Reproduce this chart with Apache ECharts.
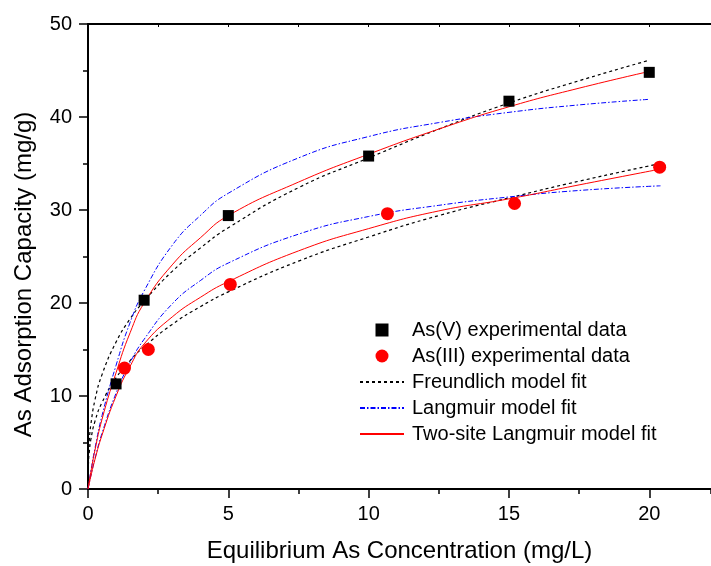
<!DOCTYPE html>
<html>
<head>
<meta charset="utf-8">
<script src="https://cdn.jsdelivr.net/npm/echarts@6/dist/echarts.min.js"></script>
<style>
    html, body { margin: 0; padding: 0; background: #fff; }
    #isotherm { width: 711px; height: 566px; }
</style>
</head>
<body>
<div id="isotherm"></div>
<script>
// measured points
var asVConc = [1, 2, 5, 10, 15, 20];
var asVQ = [11.3, 20.3, 29.4, 35.8, 41.7, 44.8];
var asIIIConc = [1.3, 2.15, 5.07, 10.67, 15.2, 20.37];
var asIIIQ = [13.0, 15.0, 22.0, 29.6, 30.7, 34.6];

// fit curves
var fitConcV = [0, 0.02, 0.05, 0.1, 0.25, 0.5, 1, 1.5, 2, 3, 4, 5, 7.5, 10, 12.5, 15, 17.5, 20];
var freundlichV = [0, 3.9, 5.4, 6.9, 9.6, 12.3, 15.8, 18.3, 20.2, 23.4, 25.9, 28.1, 32.4, 35.6, 38.7, 41.5, 43.9, 46.1];
var langmuirV = [0, 0.39, 0.97, 1.9, 4.4, 7.9, 13.3, 17.9, 21.3, 26.2, 29.4, 31.8, 35.6, 37.9, 39.4, 40.5, 41.3, 41.9];
var twoSiteV = [0, 0.37, 0.9, 1.8, 4.2, 7.5, 12.5, 16.8, 20.0, 24.1, 27.0, 29.4, 33.0, 36.0, 38.7, 41.1, 43.1, 44.9];

var fitConcIII = [0, 0.02, 0.05, 0.1, 0.25, 0.5, 1, 1.5, 2, 3, 4, 5, 7.5, 10, 12.5, 15, 17.5, 20.4];
var freundlichIII = [0, 3.0, 4.1, 5.3, 7.3, 9.3, 11.95, 13.8, 15.3, 17.7, 19.6, 21.2, 24.5, 27.1, 29.4, 31.3, 33.1, 35.0];
var langmuirIII = [0, 0.29, 0.71, 1.4, 3.3, 6.0, 10.3, 13.6, 16.1, 19.9, 22.4, 24.3, 27.4, 29.3, 30.5, 31.4, 32.1, 32.6];
var twoSiteIII = [0, 0.27, 0.68, 1.35, 3.2, 5.8, 10.0, 13.2, 15.6, 18.5, 20.6, 22.3, 25.6, 28.0, 29.9, 31.2, 32.7, 34.4];

var xTicks = [0, 5, 10, 15, 20];
var yTicks = [0, 10, 20, 30, 40, 50];

var seriesNames = ['As(V) experimental data', 'As(III) experimental data',
    'Freundlich model fit', 'Langmuir model fit', 'Two-site Langmuir model fit'];

function pairs(xs, ys) {
    return xs.map(function (x, i) { return [x, ys[i]]; });
}

var font = 'Arial, "Liberation Sans", sans-serif';

drawIsotherm();
function drawIsotherm() {
    var dom = document.getElementById('isotherm');
    var myChart = echarts.init(dom, null, {renderer: 'canvas'});

    var dashed = {color: '#000', width: 1.2, type: [3, 3]};
    var dashDot = {color: '#0000ff', width: 1, type: [5, 2, 1.5, 2]};
    var solid = {color: '#ff0000', width: 1, type: 'solid'};

    function fitLine(name, xs, ys, style) {
        return {
            name: name,
            type: 'line',
            data: pairs(xs, ys),
            symbol: 'none',
            smooth: 0.5,
            lineStyle: style,
            itemStyle: {color: style.color},
            z: 2
        };
    }
    // hide the little marker the legend puts on line icons
    var noMarker = {color: 'rgba(0,0,0,0)', borderWidth: 0};

    var option = {
        animation: false,
        backgroundColor: '#fff',
        textStyle: {fontFamily: font},
        grid: {left: 88, right: 0, top: 24, bottom: 77, containLabel: false, outerBoundsMode: 'none'},
        legend: {
            orient: 'vertical',
            left: 354,
            top: 315,
            itemWidth: 44,
            itemHeight: 13,
            itemGap: 6,
            symbolKeepAspect: true,
            textStyle: {fontSize: 20, color: '#000', fontFamily: font, padding: [0, 0, 0, 3]},
            data: [
                {name: seriesNames[0], icon: 'path://M0,0L10,0L10,10L0,10Z'},
                {name: seriesNames[1], icon: 'circle'},
                {name: seriesNames[2], itemStyle: noMarker},
                {name: seriesNames[3], itemStyle: noMarker},
                {name: seriesNames[4], itemStyle: noMarker}
            ]
        },
        xAxis: [
            {
                type: 'value',
                min: 0,
                max: 22.2,
                interval: 5,
                name: 'Equilibrium As Concentration (mg/L)',
                nameLocation: 'middle',
                nameGap: 50,
                nameTextStyle: {fontSize: 24, color: '#000', fontFamily: font},
                axisLine: {lineStyle: {color: '#000', width: 2}},
                axisTick: {length: 9, lineStyle: {color: '#000', width: 1.5}},
                axisLabel: {
                    fontSize: 20, color: '#000', margin: 15, fontFamily: font,
                    showMaxLabel: false,
                    formatter: function (v) { return xTicks.indexOf(v) >= 0 ? String(v) : ''; }
                },
                splitLine: {show: false}
            },
            {
                // minor ticks on the bottom axis
                type: 'value',
                position: 'bottom',
                min: 0,
                max: 22.2,
                interval: 2.5,
                axisLine: {show: false},
                axisTick: {length: 5, lineStyle: {color: '#000', width: 1.5}},
                axisLabel: {show: false},
                splitLine: {show: false}
            },
            {
                type: 'value',
                position: 'top',
                min: 0,
                max: 22.2,
                interval: 2.5,
                axisLine: {lineStyle: {color: '#000', width: 2}},
                axisTick: {inside: true, length: 3, lineStyle: {color: '#000', width: 1}},
                axisLabel: {show: false},
                splitLine: {show: false}
            }
        ],
        yAxis: {
            type: 'value',
            min: 0,
            max: 50,
            interval: 10,
            name: 'As Adsorption Capacity (mg/g)',
            nameLocation: 'middle',
            nameGap: 52,
            nameTextStyle: {fontSize: 24, color: '#000', fontFamily: font, padding: [0, 36, 0, 0]},
            axisLine: {show: true, lineStyle: {color: '#000', width: 2}},
            axisTick: {show: true, length: 9, lineStyle: {color: '#000', width: 1.5}},
            minorTick: {show: true, splitNumber: 2, length: 5, lineStyle: {color: '#000', width: 1.5}},
            axisLabel: {
                fontSize: 20, color: '#000', margin: 16, fontFamily: font,
                formatter: function (v) { return yTicks.indexOf(v) >= 0 ? String(v) : ''; }
            },
            splitLine: {show: false}
        },
        series: [
            fitLine(seriesNames[2], fitConcV, freundlichV, dashed),
            fitLine(seriesNames[2], fitConcIII, freundlichIII, dashed),
            fitLine(seriesNames[3], fitConcV, langmuirV, dashDot),
            fitLine(seriesNames[3], fitConcIII, langmuirIII, dashDot),
            fitLine(seriesNames[4], fitConcV, twoSiteV, solid),
            fitLine(seriesNames[4], fitConcIII, twoSiteIII, solid),
            {
                name: seriesNames[0],
                type: 'scatter',
                data: pairs(asVConc, asVQ),
                symbol: 'rect',
                symbolSize: 11,
                itemStyle: {color: '#000', opacity: 1},
                z: 3
            },
            {
                name: seriesNames[1],
                type: 'scatter',
                data: pairs(asIIIConc, asIIIQ),
                symbol: 'circle',
                symbolSize: 13,
                itemStyle: {color: '#ff0000', opacity: 1},
                z: 3
            }
        ]
    };

    myChart.setOption(option, true);
}
</script>
</body>
</html>
